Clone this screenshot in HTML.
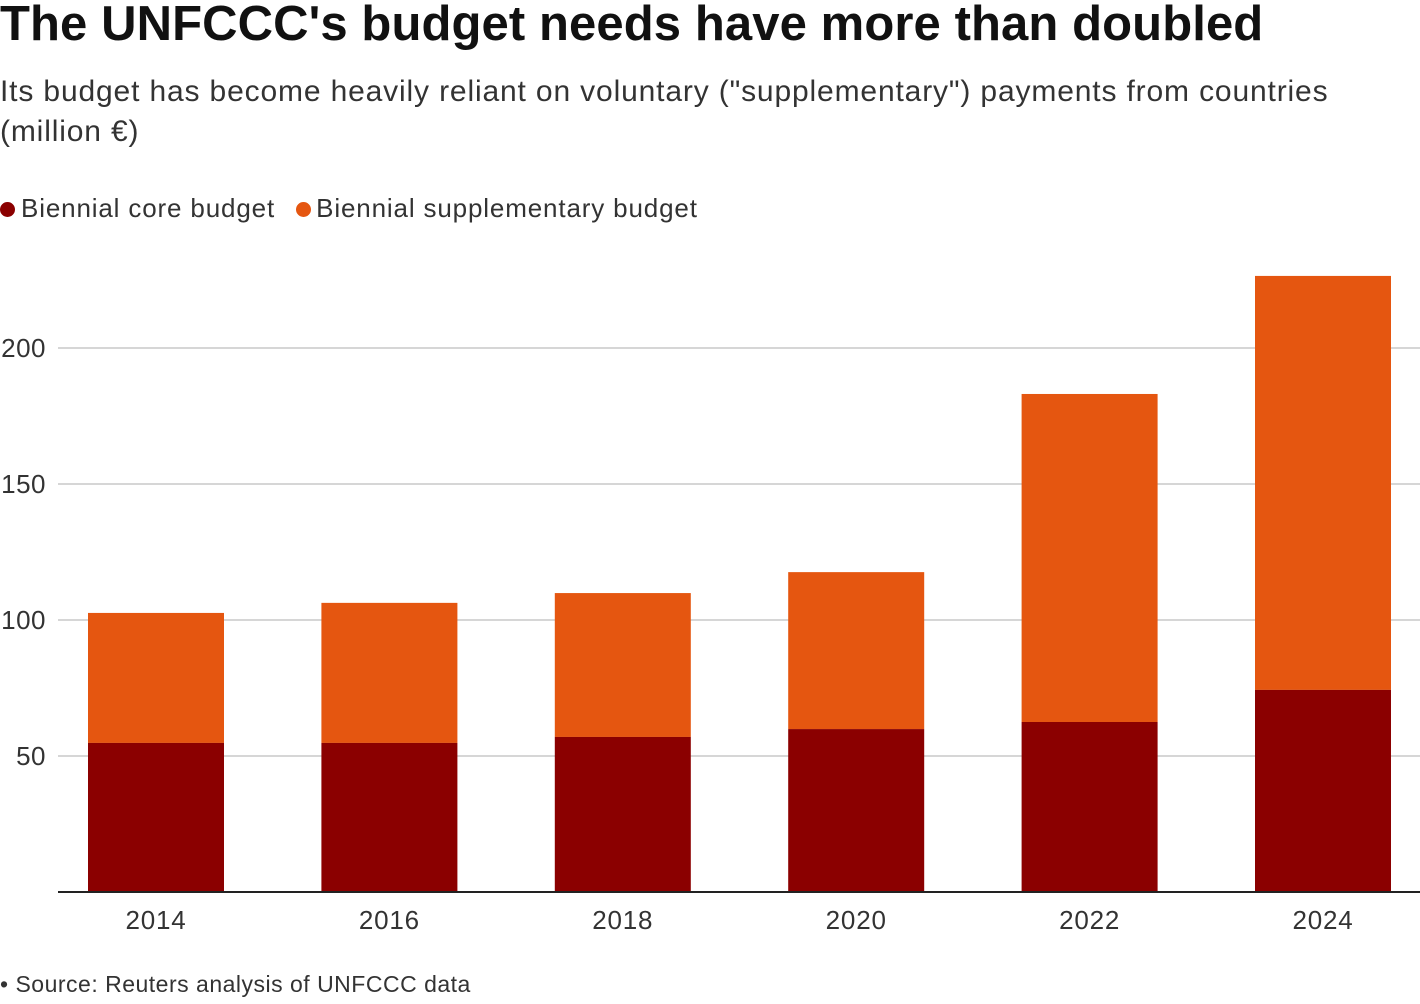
<!DOCTYPE html>
<html><head><meta charset="utf-8"><style>
body{margin:0;width:1420px;height:1004px;background:#fff;font-family:"Liberation Sans",sans-serif;color:#222;position:relative;overflow:hidden}
.t{position:absolute;white-space:nowrap}
</style></head><body>
<div class="t" style="left:0;top:-4px;font-size:49px;font-weight:bold;letter-spacing:0.1px;color:#111">The UNFCCC's budget needs have more than doubled</div>
<div class="t" style="left:0;top:72px;font-size:30px;letter-spacing:0.85px;line-height:40px;color:#333">Its budget has become heavily reliant on voluntary ("supplementary") payments from countries<br>(million €)</div>
<div class="t" style="left:0;top:193px;font-size:26px;letter-spacing:0.85px;color:#333">
<span><span style="display:inline-block;width:15px;height:15px;border-radius:50%;background:#8b0000;margin-right:6px"></span>Biennial core budget</span>
<span style="margin-left:13px"><span style="display:inline-block;width:15px;height:15px;border-radius:50%;background:#e55610;margin-right:5px"></span>Biennial supplementary budget</span>
</div>
<svg id="chart" width="1420" height="1004" style="position:absolute;left:0;top:0"></svg>
<div class="t" style="left:0;top:971px;font-size:23px;letter-spacing:0.5px;color:#333">• Source: Reuters analysis of UNFCCC data</div>
<script>
const categories=["2014","2016","2018","2020","2022","2024"];
const coreValues=[54.8,54.8,57.0,59.9,62.5,74.3];
const totalValues=[102.6,106.3,109.9,117.6,183.1,226.5];
const yTicks=[50,100,150,200];
const svg=document.getElementById('chart');
const NS="http://www.w3.org/2000/svg";
const y=v=>892-v*2.72;
const xc=i=>156+i*233.4;
const bw=136;
function mk(tag,attrs){const e=document.createElementNS(NS,tag);for(const k in attrs)e.setAttribute(k,attrs[k]);svg.appendChild(e);return e;}
yTicks.forEach(v=>{
 const l=mk('line',{x1:58,x2:1420,y1:y(v),y2:y(v),stroke:'#c8c8c8','stroke-width':1.5});
 
 
 const t=mk('text',{x:46,y:y(v)+9,'text-anchor':'end','font-size':26,'letter-spacing':0.5,fill:'#333','font-family':'Liberation Sans, sans-serif'});
 t.textContent=v;
 
 
});
categories.forEach((c,i)=>{
 const s=mk('rect',{x:xc(i)-bw/2,y:y(totalValues[i]),width:bw,height:y(coreValues[i])-y(totalValues[i]),fill:'#e55610'});
 
 
 const r=mk('rect',{x:xc(i)-bw/2,y:y(coreValues[i]),width:bw,height:892-y(coreValues[i]),fill:'#8b0000'});
 
 
 const t=mk('text',{x:xc(i),y:929,'text-anchor':'middle','font-size':26,'letter-spacing':0.8,fill:'#333','font-family':'Liberation Sans, sans-serif'});
 t.textContent=c;
 
 
});
const ax=mk('line',{x1:58,x2:1420,y1:892,y2:892,stroke:'#222','stroke-width':2});


</script>
</body></html>
